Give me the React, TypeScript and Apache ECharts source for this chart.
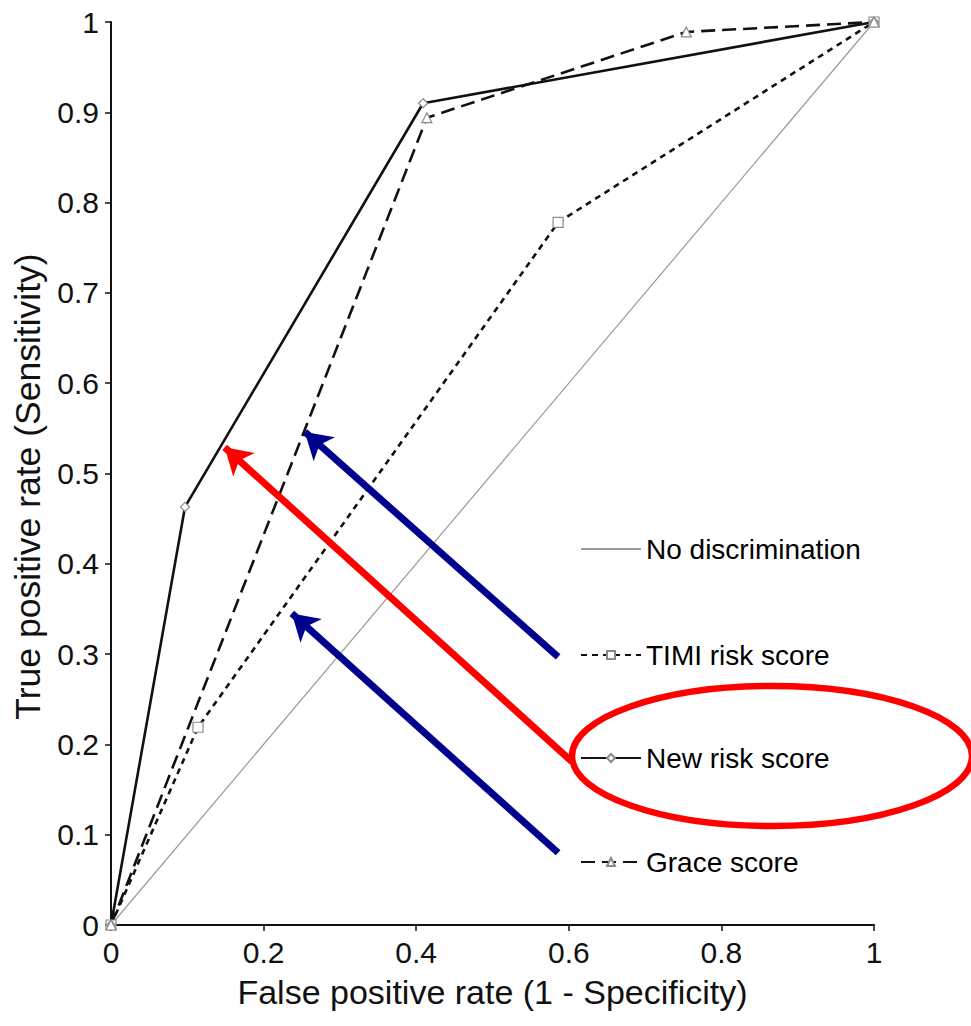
import React, { useEffect, useRef } from "react";
import * as echarts from "echarts";

// ---- Data ----
const seriesNames = ["No discrimination", "TIMI risk score", "New risk score", "Grace score"];
const noDiscFpr = [0, 1];
const noDiscTpr = [0, 1];
const timiFpr = [0, 0.114, 0.586, 1];
const timiTpr = [0, 0.219, 0.778, 1];
const newFpr = [0, 0.097, 0.409, 1];
const newTpr = [0, 0.463, 0.91, 1];
const graceFpr = [0, 0.414, 0.754, 1];
const graceTpr = [0, 0.894, 0.989, 1];

// annotation arrows (data coordinates): tail -> head
const arrowFrom = [
  [0.586, 0.297],
  [0.604, 0.181],
  [0.586, 0.08],
];
const arrowTo = [
  [0.254, 0.546],
  [0.149, 0.529],
  [0.237, 0.345],
];
const arrowColors = ["#00008f", "#ff0000", "#00008f"];

const FONT = "'Liberation Sans', Arial, Helvetica, sans-serif";

const pairs = (xs: number[], ys: number[]) => xs.map((x, i) => [x, ys[i]]);

export default function App() {
  const ref = useRef<HTMLDivElement>(null);
  useEffect(() => {
    document.body.style.margin = "0";
    if (!ref.current) return;
    const chart = echarts.init(ref.current, null, { renderer: "svg" });
    const markerStyle = { color: "#ffffff", borderColor: "#8a8a8a", borderWidth: 1.2 };
    const legendTops = [535, 641, 744, 848];
    chart.setOption({
      animation: false,
      backgroundColor: "#ffffff",
      grid: { left: 111, right: 97, top: 22, bottom: 101, containLabel: false },
      legend: seriesNames.map((n, i) => ({
        data: [i === 0 ? { name: n, itemStyle: { opacity: 0 } } : n],
        left: 580,
        top: legendTops[i],
        orient: "vertical",
        itemWidth: 60,
        itemHeight: 10,
        padding: 0,
        selectedMode: false,
        textStyle: { fontSize: 28, color: "#000", fontFamily: FONT },
      })),
      xAxis: {
        type: "value",
        min: 0,
        max: 1,
        interval: 0.2,
        axisLine: { show: true, onZero: false, lineStyle: { color: "#111", width: 2 } },
        axisTick: { show: true, length: 6, lineStyle: { color: "#111", width: 1.5 } },
        splitLine: { show: false },
        axisLabel: { fontSize: 30, color: "#111", margin: 12, fontFamily: FONT },
        name: "False positive rate (1 - Specificity)",
        nameLocation: "middle",
        nameGap: 50,
        nameTextStyle: { fontSize: 34, color: "#111", fontFamily: FONT },
      },
      yAxis: {
        type: "value",
        min: 0,
        max: 1,
        interval: 0.1,
        axisLine: { show: true, onZero: false, lineStyle: { color: "#111", width: 2 } },
        axisTick: { show: true, length: 6, lineStyle: { color: "#111", width: 1.5 } },
        splitLine: { show: false },
        axisLabel: { fontSize: 30, color: "#111", margin: 12, fontFamily: FONT },
        name: "True positive rate (Sensitivity)",
        nameLocation: "middle",
        nameGap: 62,
        nameTextStyle: { fontSize: 35.5, color: "#111", fontFamily: FONT, padding: [0, 26, 0, 0] },
      },
      series: [
        {
          name: seriesNames[0],
          type: "line",
          data: pairs(noDiscFpr, noDiscTpr),
          symbol: "none",
          lineStyle: { color: "#9a9a9a", width: 1.2 },
          itemStyle: { color: "#9a9a9a" },
          silent: true,
          z: 2,
        },
        {
          name: seriesNames[1],
          type: "line",
          data: pairs(timiFpr, timiTpr),
          symbol: "rect",
          symbolSize: 10,
          showAllSymbol: true,
          lineStyle: { color: "#111", width: 2.6, type: [6, 5] },
          itemStyle: markerStyle,
          silent: true,
          z: 3,
        },
        {
          name: seriesNames[2],
          type: "line",
          data: pairs(newFpr, newTpr),
          symbol: "diamond",
          symbolSize: 9,
          showAllSymbol: true,
          lineStyle: { color: "#111", width: 2.6 },
          itemStyle: markerStyle,
          silent: true,
          z: 3,
        },
        {
          name: seriesNames[3],
          type: "line",
          data: pairs(graceFpr, graceTpr),
          symbol: "triangle",
          symbolSize: 10,
          showAllSymbol: true,
          lineStyle: { color: "#111", width: 2.6, type: [14, 7] },
          itemStyle: markerStyle,
          silent: true,
          z: 3,
        },
        {
          name: "annotations",
          type: "line",
          data: [],
          silent: true,
          z: 10,
          markLine: {
            silent: true,
            animation: false,
            symbol: ["none", "arrow"],
            symbolSize: [24, 26],
            label: { show: false },
            emphasis: { disabled: true },
            data: arrowFrom.map((f, i) => [
              { coord: f, lineStyle: { color: arrowColors[i], width: 7, type: "solid" }, itemStyle: { color: arrowColors[i] } },
              { coord: arrowTo[i] },
            ]),
          },
        },
      ],
      graphic: [
        {
          type: "ellipse",
          shape: { cx: 772, cy: 756, rx: 200, ry: 70 },
          style: { fill: "none", stroke: "#ff0000", lineWidth: 6.5 },
          z: 100,
          silent: true,
        },
      ],
    });
    return () => chart.dispose();
  }, []);
  return <div ref={ref} style={{ width: 971, height: 1026, position: "absolute", left: 0, top: 0 }} />;
}
